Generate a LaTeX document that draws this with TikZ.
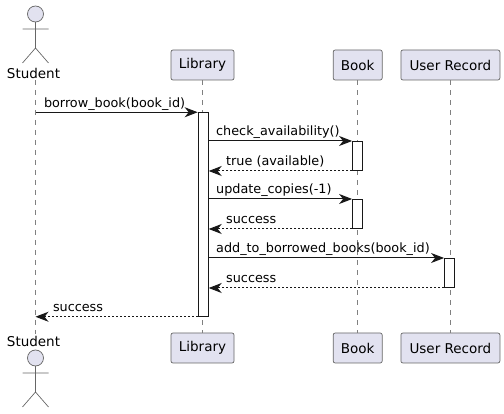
\documentclass[tikz,border=0pt]{standalone}
\usepackage{fontspec}
\setmainfont{DejaVu Sans}
\usetikzlibrary{arrows.meta, positioning}
\definecolor{partfill}{HTML}{E2E2F0}
\definecolor{partline}{HTML}{181818}
\definecolor{thinline}{HTML}{666666}
\definecolor{dashline}{HTML}{808080}
\tikzset{
  part/.style={rectangle, draw=thinline, fill=partfill, line width=0.7pt, rounded corners=2pt, minimum height=30pt, inner sep=0pt, font=\fontsize{13.5}{16}\selectfont},
  actorname/.style={draw=none, inner sep=0pt, minimum height=14pt, minimum width=56pt, font=\fontsize{13.5}{16}\selectfont},
  lifeline/.style={draw=dashline, line width=0.6pt, dash pattern=on 5pt off 5pt},
  activebar/.style={rectangle, draw=partline, fill=white, line width=1pt, minimum width=10pt, inner sep=0pt},
  callarrow/.style={-{Stealth[length=13pt, width=10pt, inset=4pt]}, line width=1pt, draw=partline},
  retarrow/.style={callarrow, dash pattern=on 2pt off 2pt},
  msgtext/.style={anchor=base west, inner sep=0pt, font=\fontsize{12.8}{15}\selectfont},
  actor/.pic={
    \draw[draw=thinline, line width=0.7pt, fill=partfill] (0,0) circle (8);
    \draw[draw=thinline, line width=0.7pt] (0,8) -- (0,34) (-13,15) -- (13,15) (-13,49) -- (0,34) -- (13,49);
  }
}

\begin{document}
\begin{tikzpicture}[x=1pt, y=-1pt]
\useasboundingbox (0,0) rectangle (504,414);

% Top row
\pic at (35.5,14) {actor};
\node[actorname] (student) at (33.5,73) {Student};
\node[part, minimum width=63pt] (library) at (202.5,65) {Library};
\node[part, minimum width=49pt] (book) [right=98.5pt of library] {Book};
\node[part, minimum width=99pt] (record) [right=18pt of book] {User Record};

% Bottom row
\node[actorname] (studentb) at (33.5,341) {Student};
\pic at (35.5,358) {actor};
\node[part, minimum width=63pt] (libraryb) at (202.5,348) {Library};
\node[part, minimum width=49pt] (bookb) [right=98.5pt of libraryb] {Book};
\node[part, minimum width=99pt] (recordb) [right=18pt of bookb] {User Record};

% Lifelines
\coordinate (studenttop) at (35.5,80);
\coordinate (studentend) at (35.5,334);
\draw[lifeline] (studenttop) -- (studentend);
\draw[lifeline] (library) -- (libraryb);
\draw[lifeline] (book) -- (bookb);
\draw[lifeline] (record) -- (recordb);

% Activation bars
\node[activebar, minimum height=203.5pt] (libbar) at (203.2,214.5) {};
\node[activebar, minimum height=29pt] (bookbarA) at (357.6,156) {};
\node[activebar, minimum height=29pt] (bookbarB) at (357.6,214) {};
\node[activebar, minimum height=29pt] (recbar) at (449.6,273) {};

% Solid arrows
\draw[callarrow] (studenttop |- libbar.north) -- (libbar.north west) node[msgtext, pos=0, xshift=8pt, yshift=5pt] (lblborrow) {borrow\_book(book\_id)};
\draw[callarrow] (libbar.east |- bookbarA.north) -- (bookbarA.north west) node[msgtext, pos=0, xshift=7pt, yshift=5pt] (lblcheck) {check\_availability()};
\draw[callarrow] (libbar.east |- bookbarB.north) -- (bookbarB.north west) node[msgtext, pos=0, xshift=7pt, yshift=5pt] (lblupdate) {update\_copies(-1)};
\draw[callarrow] (libbar.east |- recbar.north) -- (recbar.north west) node[msgtext, pos=0, xshift=7pt, yshift=5pt] (lbladd) {add\_to\_borrowed\_books(book\_id)};

% Dashed returns
\draw[retarrow] (bookbarA.south west) -- (libbar.east |- bookbarA.south) node[msgtext, pos=1, xshift=17pt, yshift=5pt] (lbltrue) {true (available)};
\draw[retarrow] (bookbarB.south west) -- (libbar.east |- bookbarB.south) node[msgtext, pos=1, xshift=17pt, yshift=5pt] (lblokA) {success};
\draw[retarrow] (recbar.south west) -- (libbar.east |- recbar.south) node[msgtext, pos=1, xshift=17pt, yshift=5pt] (lblokB) {success};
\draw[retarrow] (libbar.south west) -- (studenttop |- libbar.south) node[msgtext, pos=1, xshift=17pt, yshift=5pt] (lblokC) {success};

\end{tikzpicture}
\end{document}
